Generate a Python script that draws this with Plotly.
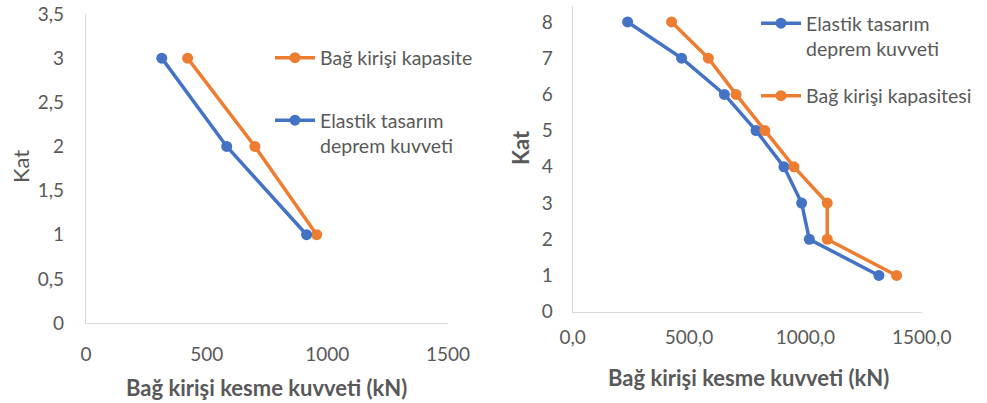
import plotly.graph_objects as go

# Storey numbers
kat_3 = [3, 2, 1]
kat_8 = [8, 7, 6, 5, 4, 3, 2, 1]

# 3-storey frame: link beam shear (kN)
elastik_3 = [314, 583, 914]
kapasite_3 = [421, 700, 956]

# 8-storey frame: link beam shear (kN)
elastik_8 = [236, 468, 652, 788, 908, 984, 1017, 1316]
kapasite_8 = [425, 583, 702, 826, 951, 1094, 1094, 1392]

# Tick labels
y3_vals = [0, 0.5, 1, 1.5, 2, 2.5, 3, 3.5]
y3_text = ["0", "0,5", "1", "1,5", "2", "2,5", "3", "3,5"]
x3_vals = [0, 500, 1000, 1500]
x3_text = ["0", "500", "1000", "1500"]
y8_vals = [0, 1, 2, 3, 4, 5, 6, 7, 8]
y8_text = [str(v) for v in y8_vals]
x8_vals = [0, 500, 1000, 1500]
x8_text = ["0,0", "500,0", "1000,0", "1500,0"]

BLUE = "#4472C4"
ORANGE = "#ED7D31"
GREY = "#595959"
AXIS = "#D9D9D9"
FONT = "Lato"

W, H = 987, 403

fig = go.Figure()

def series(x, y, name, color, xa, ya, legend):
    fig.add_trace(go.Scatter(
        x=x, y=y, name=name, mode="lines+markers",
        line=dict(color=color, width=3.5),
        marker=dict(color=color, size=11),
        xaxis=xa, yaxis=ya, legend=legend, cliponaxis=False,
    ))

series(kapasite_3, kat_3, "Bağ kirişi kapasite", ORANGE, "x", "y", "legend")
series(elastik_3, kat_3, "Elastik tasarım<br>deprem kuvveti", BLUE, "x", "y", "legend2")
series(elastik_8, kat_8, "Elastik tasarım<br>deprem kuvveti", BLUE, "x2", "y2", "legend3")
series(kapasite_8, kat_8, "Bağ kirişi kapasitesi", ORANGE, "x2", "y2", "legend4")

def px(x):
    return x / W

def py(y):
    return 1 - y / H

tickfont = dict(family=FONT, size=19, color=GREY)
axis_common = dict(
    showgrid=False, zeroline=False, showline=True, linecolor=AXIS, linewidth=1.3,
    ticks="outside", tickcolor="rgba(0,0,0,0)", tickfont=tickfont, fixedrange=True,
    automargin=False,
)

legend_common = dict(
    font=dict(family=FONT, size=19.5, color=GREY),
    bgcolor="rgba(0,0,0,0)", xanchor="left", yanchor="middle",
    valign="top", itemwidth=40, tracegroupgap=0,
)

title_font = dict(family=FONT, size=22, color=GREY, weight="bold")

def label(text, x, y, font, angle=0):
    return dict(text=text, x=px(x), y=py(y), xref="paper", yref="paper",
                xanchor="center", yanchor="middle", showarrow=False,
                textangle=angle, font=font)

fig.update_layout(
    width=W, height=H,
    margin=dict(l=0, r=0, t=0, b=0),
    paper_bgcolor="white", plot_bgcolor="white",
    font=dict(family=FONT, color=GREY),
    xaxis=dict(axis_common, domain=[px(86), px(448)], range=[0, 1500],
               tickvals=x3_vals, ticktext=x3_text, ticklen=14, anchor="y"),
    yaxis=dict(axis_common, domain=[py(323), py(14)], range=[0, 3.5],
               tickvals=y3_vals, ticktext=y3_text, ticklen=17, anchor="x"),
    xaxis2=dict(axis_common, domain=[px(572.7), px(921.7)], range=[0, 1500],
                tickvals=x8_vals, ticktext=x8_text, ticklen=8, anchor="y2"),
    yaxis2=dict(axis_common, domain=[py(311.7), py(6)], range=[0, 8.44],
                tickvals=y8_vals, ticktext=y8_text, ticklen=15, anchor="x2"),
    legend=dict(legend_common, x=px(270), y=py(58)),
    legend2=dict(legend_common, x=px(270), y=py(133)),
    legend3=dict(legend_common, x=px(756), y=py(36)),
    legend4=dict(legend_common, x=px(756), y=py(96)),
    showlegend=True,
    annotations=[
        label("Bağ kirişi kesme kuvveti (kN)", 266, 387, title_font),
        label("Bağ kirişi kesme kuvveti (kN)", 748, 377, title_font),
        label("Kat", 20, 167, dict(family=FONT, size=22, color=GREY), -90),
        label("Kat", 520, 148, dict(family=FONT, size=22, color=GREY, weight="bold"), -90),
    ],
)

fig.write_html("out.html")
